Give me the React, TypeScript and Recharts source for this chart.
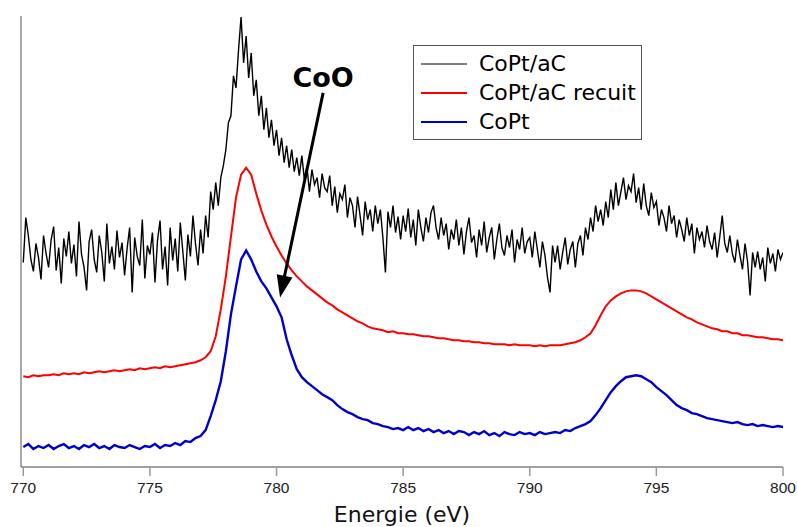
import React from 'react';
import { LineChart, Line, XAxis, YAxis, ReferenceLine, Legend } from 'recharts';

const X_START = 770;
const X_END = 800;
const X_TICKS = [770, 775, 780, 785, 790, 795, 800];

// CoPt/aC (noisy), 0.1 eV step
const copTaC = [
  205, 250, 232, 208, 196, 224, 210, 188, 232, 214,
  200, 228, 241, 197, 220, 184, 229, 211, 236, 204,
  223, 191, 246, 213, 200, 177, 226, 238, 208, 195,
  232, 215, 186, 244, 204, 221, 198, 237, 210, 225,
  192, 219, 240, 175, 230, 211, 202, 248, 189, 222,
  213, 235, 185, 227, 247, 198, 221, 182, 240, 207,
  229, 196, 245, 216, 187, 233, 211, 252, 224, 202,
  238, 214, 252, 230, 276, 258, 285, 262, 290, 302,
  318, 345, 352, 392, 380, 418, 451, 405, 432, 390,
  415, 372, 388, 352, 372, 338, 360, 330, 348, 322,
  338, 312, 330, 305, 322, 300, 318, 296, 310, 292,
  312, 288, 301, 276, 298, 283, 290, 270, 294, 280,
  276, 292, 262, 281, 255, 274, 268, 283, 250, 270,
  262, 240, 271, 252, 232, 266, 248, 258, 236, 262,
  244, 258, 230, 195, 256, 240, 262, 235, 251, 228,
  252, 236, 259, 230, 248, 222, 258, 240, 226, 250,
  235, 255, 262, 240, 228, 250, 232, 244, 218, 238,
  228, 248, 222, 240, 213, 236, 250, 225, 232, 210,
  238, 222, 246, 215, 230, 240, 208, 228, 244, 220,
  212, 232, 220, 238, 205, 228, 218, 240, 214, 226,
  230, 210, 236, 218, 200, 226, 212, 190, 175, 222,
  205, 222, 198, 215, 230, 203, 218, 226, 200, 224,
  232, 212, 240, 228, 250, 236, 262, 246, 258, 242,
  266, 250, 278, 258, 285, 262, 276, 290, 268, 282,
  276, 294, 265, 280, 258, 284, 262, 252, 275, 260,
  266, 242, 258, 250, 236, 262, 244, 252, 230, 248,
  238, 226, 250, 232, 244, 214, 240, 228, 236, 220,
  242, 226, 218, 235, 210, 230, 252, 224, 215, 232,
  214, 205, 228, 212, 198, 224, 206, 172, 215, 200,
  216, 198, 210, 186, 220, 204, 214, 196, 218, 208,
  215,
];

// CoPt/aC recuit, 0.2 eV step
const copTaCRecuit = [
  91, 90, 92, 91, 92, 92, 93, 92, 94, 93,
  94, 93, 95, 94, 95, 96, 95, 96, 97, 96,
  97, 98, 97, 99, 98, 99, 100, 99, 101, 100,
  101, 102, 103, 104, 105, 107, 110, 116, 131, 158,
  191, 231, 270, 293, 300, 293, 274, 257, 243, 231,
  221, 212, 204, 197, 191, 186, 181, 177, 173, 169,
  165, 162, 158, 155, 152, 149, 146, 144, 141, 139,
  138, 137, 135, 136, 134, 134, 133, 133, 132, 131,
  131, 130, 129, 129, 128, 127, 127, 126, 126, 125,
  125, 124, 124, 123, 123, 123, 122, 123, 122, 122,
  122, 121, 122, 121, 122, 122, 122, 123, 124, 125,
  127, 130, 134, 142, 152, 161, 167, 171, 174, 176,
  177, 177, 176, 174, 171, 168, 165, 162, 159, 156,
  153, 150, 148, 145, 143, 141, 139, 138, 136, 136,
  134, 134, 132, 132, 131, 130, 130, 129, 128, 128,
  127,
];

// CoPt, 0.2 eV step
const coPt = [
  20, 23, 18, 21, 19, 22, 18, 21, 23, 19,
  21, 18, 22, 20, 23, 19, 21, 18, 22, 20,
  19, 22, 20, 18, 21, 20, 23, 19, 22, 21,
  24, 22, 26, 25, 29, 31, 37, 51, 67, 86,
  116, 153, 181, 208, 217, 208, 196, 186, 179, 170,
  161, 150, 128, 112, 98, 90, 85, 81, 77, 73,
  70, 67, 62, 58, 55, 53, 50, 48, 47, 44,
  43, 41, 40, 38, 39, 37, 40, 37, 39, 36,
  38, 35, 37, 34, 36, 33, 36, 35, 32, 35,
  33, 36, 32, 34, 31, 35, 33, 32, 35, 33,
  34, 32, 35, 33, 34, 35, 34, 37, 36, 39,
  41, 43, 46, 52, 59, 67, 75, 81, 86, 90,
  91, 92, 91, 88, 85, 80, 76, 72, 67, 62,
  59, 57, 54, 53, 51, 49, 48, 47, 46, 45,
  44, 45, 43, 42, 43, 41, 42, 41, 40, 41,
  40,
];

const SERIES_NAMES = ['CoPt/aC', 'CoPt/aC recuit', 'CoPt'];
const SERIES_COLORS = ['#000000', '#ff0000', '#0000cc'];

// Annotation "CoO" arrow: start and tip in data coordinates
const ARROW_START = { x: 781.84, y: 375 };
const ARROW_TIP = { x: 780.14, y: 170 };
const ANNOTATION = 'CoO';

const toPoints = (vals: number[], step: number) =>
  vals.map((v, i) => ({ x: +(X_START + i * step).toFixed(2), y: v }));

const blackData = toPoints(copTaC, 0.1);
const redData = toPoints(copTaCRecuit, 0.2);
const blueData = toPoints(coPt, 0.2);

const FONT = 'DejaVu Sans, Verdana, sans-serif';
const TICK_FONT = 'Liberation Sans, Arial, sans-serif';

const ArrowShape = (props: any) => {
  const { x1, y1, x2, y2 } = props;
  const dx = x2 - x1;
  const dy = y2 - y1;
  const len = Math.sqrt(dx * dx + dy * dy) || 1;
  const ux = dx / len;
  const uy = dy / len;
  const headLen = 22;
  const headHalf = 8;
  const bx = x2 - ux * headLen;
  const by = y2 - uy * headLen;
  const px = -uy;
  const py = ux;
  return (
    <g>
      <line x1={x1} y1={y1} x2={bx + ux * 2} y2={by + uy * 2} stroke="#000" strokeWidth={3} />
      <polygon
        points={`${x2},${y2} ${bx + px * headHalf},${by + py * headHalf} ${bx - px * headHalf},${by - py * headHalf}`}
        fill="#000"
      />
      <text
        x={x1}
        y={y1 - 6}
        textAnchor="middle"
        fontFamily={FONT}
        fontWeight="bold"
        fontSize={27}
        fill="#000"
      >
        {ANNOTATION}
      </text>
    </g>
  );
};

const LegendBox = () => (
  <div
    style={{
      width: 229,
      height: 95,
      boxSizing: 'border-box',
      border: '1px solid #555',
      background: '#fff',
      paddingTop: 3,
      fontFamily: FONT,
      fontSize: 22,
      color: '#000',
      textAlign: 'left',
    }}
  >
    {SERIES_NAMES.map((name, i) => (
      <div key={name} style={{ display: 'flex', alignItems: 'center', height: 29 }}>
        <svg width={46} height={4} style={{ marginLeft: 7, marginRight: 12 }}>
          <line x1={0} y1={2} x2={46} y2={2} stroke={SERIES_COLORS[i]} strokeWidth={i === 0 ? 1 : 2} />
        </svg>
        <span style={{ lineHeight: '29px', whiteSpace: 'nowrap' }}>{name}</span>
      </div>
    ))}
  </div>
);

export default function App() {
  return (
    <div style={{ position: 'absolute', left: 0, top: 0, width: 797, height: 527, background: '#fff' }}>
      <LineChart width={797} height={527} margin={{ top: 16, right: 14, bottom: 0, left: 20 }}>
        <XAxis
          type="number"
          dataKey="x"
          domain={[769.91, X_END]}
          ticks={X_TICKS}
          allowDataOverflow
          height={60}
          tickSize={9}
          tickMargin={6}
          axisLine={{ stroke: '#444', strokeWidth: 1 }}
          tickLine={{ stroke: '#999', strokeWidth: 1.5 }}
          tick={{ fontFamily: TICK_FONT, fontSize: 15.5, fill: '#222' }}
          label={{
            value: 'Energie (eV)',
            position: 'insideBottom',
            offset: 5,
            fontFamily: FONT,
            fontSize: 22,
            fill: '#111',
          }}
        />
        <YAxis
          type="number"
          dataKey="y"
          domain={[0, 452]}
          width={1}
          tick={false}
          tickLine={false}
          axisLine={{ stroke: '#555', strokeWidth: 1 }}
        />
        <Legend
          layout="horizontal"
          verticalAlign="middle"
          align="center"
          content={<LegendBox />}
          wrapperStyle={{ left: 413, top: 45, width: 229, height: 95 }}
        />
        <Line
          data={blackData}
          dataKey="y"
          name={SERIES_NAMES[0]}
          stroke={SERIES_COLORS[0]}
          strokeWidth={1.4}
          dot={false}
          type="linear"
          isAnimationActive={false}
        />
        <Line
          data={redData}
          dataKey="y"
          name={SERIES_NAMES[1]}
          stroke={SERIES_COLORS[1]}
          strokeWidth={2}
          dot={false}
          type="linear"
          isAnimationActive={false}
        />
        <Line
          data={blueData}
          dataKey="y"
          name={SERIES_NAMES[2]}
          stroke={SERIES_COLORS[2]}
          strokeWidth={2.4}
          dot={false}
          type="linear"
          isAnimationActive={false}
        />
        <ReferenceLine
          segment={[ARROW_START, ARROW_TIP]}
          ifOverflow="visible"
          shape={ArrowShape}
        />
      </LineChart>
    </div>
  );
}
